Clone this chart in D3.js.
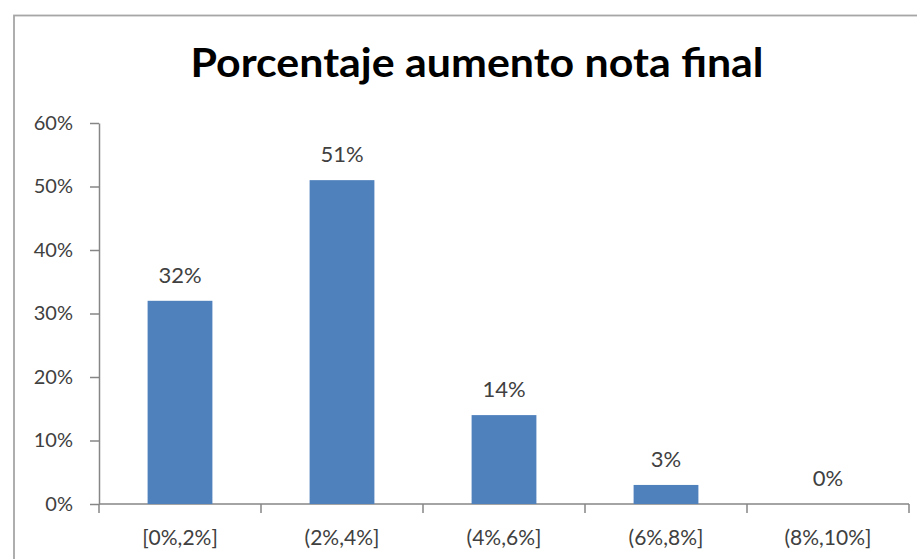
<!DOCTYPE html>
<html>
<head>
<meta charset="utf-8">
<script src="https://d3js.org/d3.v7.min.js"></script>
<style>
  body { margin: 0; background: #fff; }
  svg { display: block; }
</style>
</head>
<body>
<div id="chart"></div>
<script>
// datos del gráfico
const categories = ["[0%,2%]", "(2%,4%]", "(4%,6%]", "(6%,8%]", "(8%,10%]"];
const values = [32, 51, 14, 3, 0];
const yTicks = [0, 10, 20, 30, 40, 50, 60];
const title = "Porcentaje aumento nota final";

const W = 917, H = 559;
const margin = {top: 123, right: 8, bottom: 55, left: 99};
const width = W - margin.left - margin.right;
const height = H - margin.top - margin.bottom;
const font = "Lato, 'Open Sans', sans-serif";

const svg = d3.select("#chart").append("svg")
    .attr("width", W)
    .attr("height", H);

// marco del área del gráfico
svg.append("rect")
    .attr("x", 14).attr("y", 15.5)
    .attr("width", W).attr("height", H)
    .attr("fill", "none")
    .attr("stroke", "#a6a6a6")
    .attr("stroke-width", 1.8);

// título
svg.append("text")
    .attr("x", 477).attr("y", 77)
    .attr("text-anchor", "middle")
    .attr("font-family", font)
    .attr("font-weight", "bold")
    .attr("font-size", 40)
    .attr("textLength", 573)
    .attr("lengthAdjust", "spacingAndGlyphs")
    .attr("fill", "#000")
    .text(title);

const g = svg.append("g")
    .attr("transform", `translate(${margin.left},${margin.top})`);

const x = d3.scaleBand()
    .domain(categories)
    .range([0, width])
    .paddingInner(0.6)
    .paddingOuter(0.3);

const y = d3.scaleLinear()
    .domain([0, 60])
    .range([height, 0]);

// eje y
const yAxis = g.append("g")
    .call(d3.axisLeft(y).tickValues(yTicks).tickFormat(d => d + "%").tickSize(9).tickSizeOuter(0));
yAxis.select(".domain").attr("stroke", "#868686").attr("stroke-width", 1.5);
yAxis.selectAll(".tick line").attr("stroke", "#868686").attr("stroke-width", 1.5);
yAxis.selectAll(".tick text")
    .attr("x", -26)
    .attr("font-family", font)
    .attr("font-size", 20)
    .attr("fill", "#404040");

// eje x con marcas en los límites de las categorías
const xAxis = g.append("g").attr("transform", `translate(0,${height})`);
xAxis.append("line")
    .attr("x1", 0).attr("x2", width)
    .attr("stroke", "#868686").attr("stroke-width", 1.5);
const bounds = d3.range(categories.length + 1).map(i => i * x.step());
xAxis.selectAll(".xtick")
    .data(bounds)
    .enter().append("line")
    .attr("x1", d => d).attr("x2", d => d)
    .attr("y1", 0).attr("y2", 9)
    .attr("stroke", "#868686").attr("stroke-width", 1.5);
xAxis.selectAll(".xlabel")
    .data(categories)
    .enter().append("text")
    .attr("x", d => x(d) + x.bandwidth() / 2)
    .attr("y", 41)
    .attr("text-anchor", "middle")
    .attr("font-family", font)
    .attr("font-size", 21)
    .attr("fill", "#404040")
    .text(d => d);

// barras
g.selectAll(".bar")
    .data(values)
    .enter().append("rect")
    .attr("class", "bar")
    .attr("x", (d, i) => x(categories[i]))
    .attr("y", d => y(d))
    .attr("width", x.bandwidth())
    .attr("height", d => height - y(d))
    .attr("fill", "#4f81bd");

// etiquetas de datos
g.selectAll(".label")
    .data(values)
    .enter().append("text")
    .attr("x", (d, i) => x(categories[i]) + x.bandwidth() / 2)
    .attr("y", d => y(d) - 18)
    .attr("text-anchor", "middle")
    .attr("font-family", font)
    .attr("font-size", 22)
    .attr("fill", "#404040")
    .text(d => d + "%");
</script>
</body>
</html>
